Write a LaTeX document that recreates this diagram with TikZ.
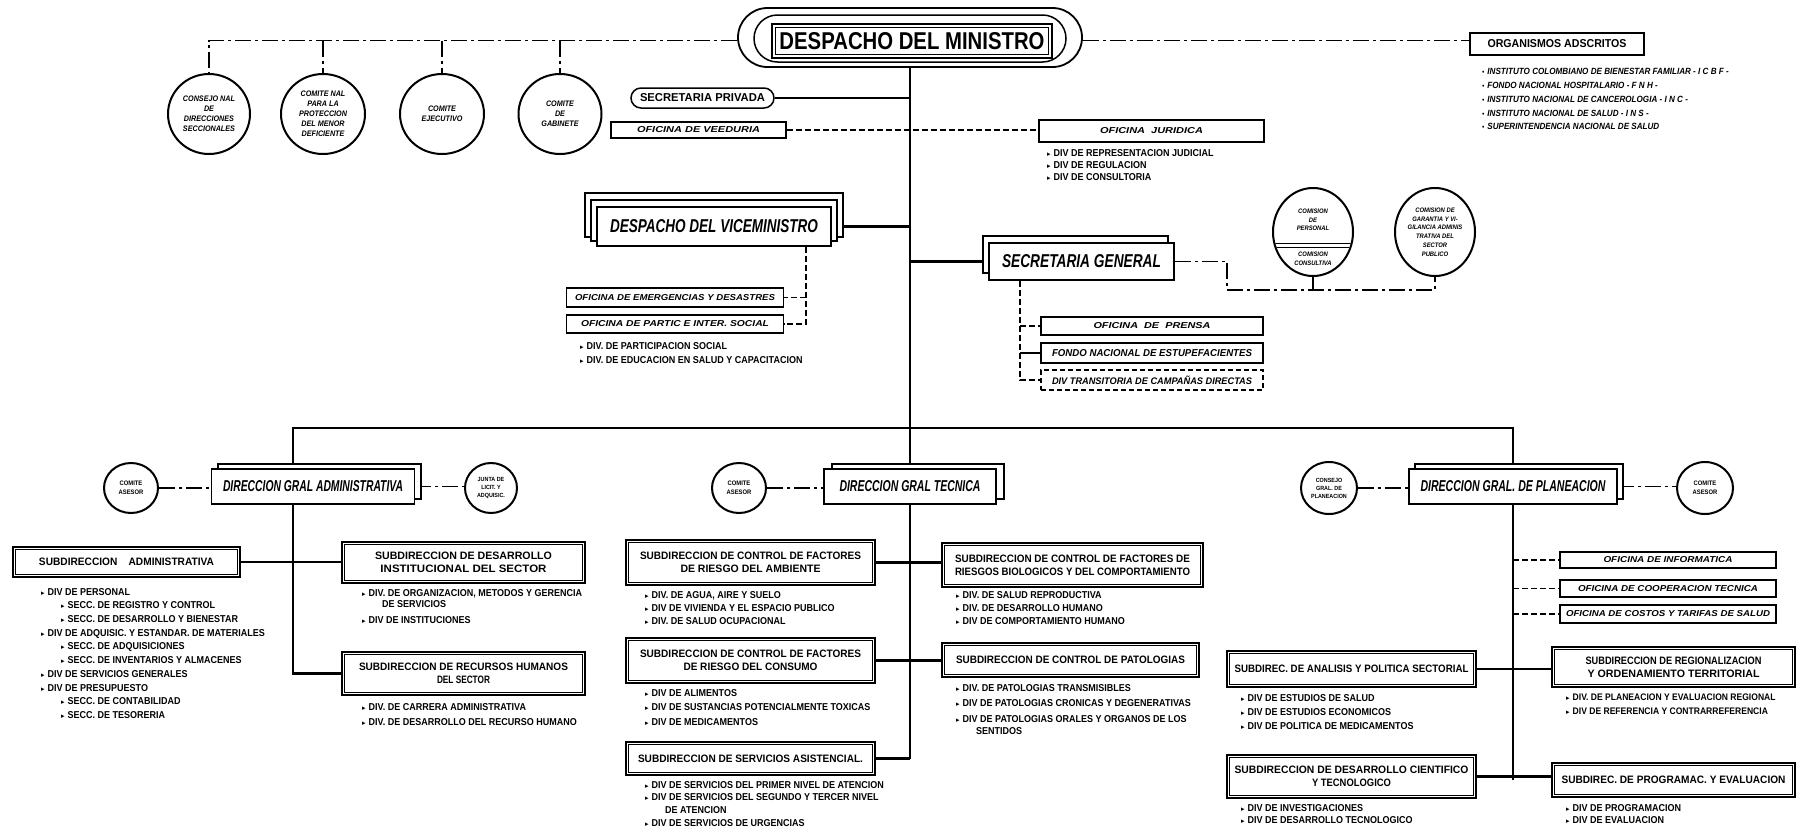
\documentclass[tikz,border=0pt]{standalone}
\usepackage{fontspec}
\setmainfont{Liberation Sans}
\newfontfamily\cf[FakeStretch=0.9]{Liberation Sans}
\newfontfamily\symf{DejaVu Sans}
\usetikzlibrary{shapes.geometric,backgrounds}
\newcommand\fit[3]{\resizebox{#1pt}{#2pt}{#3}}
\newcommand\bu{{\symf\fontsize{7}{7}\selectfont\char"25B8}\hspace{3pt}}
\newcommand\dotb{{\fontsize{7}{7}\selectfont\textbullet}\hspace{3pt}}
\newcommand\ind{\hspace*{20pt}}
\tikzset{
 conn/.style={line width=2.6pt},
 dconn/.style={line width=1.2pt, dash pattern=on 6pt off 3pt},
 ddconn/.style={line width=1.4pt, dash pattern=on 16pt off 4pt on 3pt off 4pt},
 circ/.style 2 args={draw, ellipse, line width=2pt, fill=white, minimum width=#1pt, minimum height=#2pt, inner sep=0pt, align=center, font=\cf\bfseries\itshape\fontsize{8}{10}\selectfont},
 sub/.style 2 args={draw, line width=2.6pt, fill=white, minimum width=#1pt, minimum height=#2pt, inner sep=0pt, align=center, font=\cf\bfseries\fontsize{8}{13}\selectfont},
 ofi/.style 2 args={draw, line width=1.3pt, fill=white, minimum width=#1pt, minimum height=#2pt, inner sep=0pt, align=center, font=\cf\bfseries\itshape},
 dir/.style 2 args={draw, line width=1.6pt, fill=white, minimum width=#1pt, minimum height=#2pt, inner sep=0pt, align=center, font=\cf\bfseries\itshape},
 lst/.style={anchor=north west, inner sep=0pt, align=left, font=\cf\bfseries\fontsize{10}{13}\selectfont},
 layer/.style={line width=1.6pt, fill=white},
}
\begin{document}
\begin{tikzpicture}[x=1pt,y=-1pt]
\useasboundingbox (0,0) rectangle (1801,833);

% ---------------- Despacho del Ministro
\node[draw,line width=1.8pt,rounded corners=29.5pt,minimum width=344pt,minimum height=59pt] (mina) at (910,37.5) {};
\node[draw,line width=1.5pt,rounded corners=23.5pt,minimum width=312pt,minimum height=47pt] (minb) at (910,38.5) {};
\node[draw,line width=1.6pt,fill=white,minimum width=280pt,minimum height=34pt,inner sep=0pt,font=\cf\bfseries] (min) at (912,41) {\fit{265}{17}{DESPACHO DEL MINISTRO}};

% top circles
\node[circ={82}{80}] (c1) at (209,114) {CONSEJO NAL\\DE\\DIRECCIONES\\SECCIONALES};
\node[circ={84}{80}] (c2) at (323,114) {COMITE NAL\\PARA LA\\PROTECCION\\DEL MENOR\\DEFICIENTE};
\node[circ={84}{80}] (c3) at (442,114) {COMITE\\EJECUTIVO};
\node[circ={83}{80}] (c4) at (560,114) {COMITE\\DE\\GABINETE};

\node[draw,line width=1.5pt,fill=white,rounded corners=10pt,minimum width=143pt,minimum height=20pt,inner sep=0pt,font=\cf\bfseries] (spriv) at (702.5,98) {\fit{125}{8}{SECRETARIA PRIVADA}};
\node[ofi={175}{16}] (veed) at (698.5,130) {\fit{123}{6}{OFICINA DE VEEDURIA}};
\node[ofi={225}{22}] (jur) at (1151.5,131) {\fit{103}{6}{OFICINA\ \ JURIDICA}};
\node[lst,font=\cf\bfseries\fontsize{10}{12}\selectfont] (lj) at (1047,149.5) {\bu DIV DE REPRESENTACION JUDICIAL\\\bu DIV DE REGULACION\\\bu DIV DE CONSULTORIA};

\node[draw,line width=1.2pt,fill=white,minimum width=174pt,minimum height=22pt,inner sep=0pt,font=\cf\bfseries] (org) at (1557,44) {\fit{139}{8}{ORGANISMOS ADSCRITOS}};
\node[lst,font=\cf\bfseries\itshape\fontsize{9}{13.7}\selectfont] (lo) at (1482,68.5) {\dotb INSTITUTO COLOMBIANO DE BIENESTAR FAMILIAR - I C B F -\\\dotb FONDO NACIONAL HOSPITALARIO - F N H -\\\dotb INSTITUTO NACIONAL DE CANCEROLOGIA - I N C -\\\dotb INSTITUTO NACIONAL DE SALUD - I N S -\\\dotb SUPERINTENDENCIA NACIONAL DE SALUD};

% ---------------- Viceministro
\draw[layer] (585,193) rectangle (843,237);
\draw[layer] (591,200) rectangle (837,241);
\node[dir={234}{39}] (vice) at (714,226.5) {\fit{208}{13}{DESPACHO DEL VICEMINISTRO}};
\node[ofi={217}{19}] (emer) at (675,297.5) {\fit{200}{6}{OFICINA DE EMERGENCIAS Y DESASTRES}};
\node[ofi={217}{18}] (partic) at (675,324) {\fit{188}{6}{OFICINA DE PARTIC E INTER. SOCIAL}};
\node[lst,font=\cf\bfseries\fontsize{10}{14}\selectfont] (lv) at (580,342) {\bu DIV. DE PARTICIPACION SOCIAL\\\bu DIV. DE EDUCACION EN SALUD Y CAPACITACION};

% ---------------- Secretaria General
\draw[layer] (983,236) rectangle (1168,273);
\node[dir={185}{37}] (sg) at (1081.5,261.5) {\fit{159}{13}{SECRETARIA GENERAL}};
\node[circ={80}{88}] (cp) at (1313,232) {};
\node[circ={80}{88}] (cg) at (1435,232) {};
\begin{scope}
\clip (1313,232) ellipse [x radius=39pt, y radius=43pt];
\draw[line width=1.2pt] (1260,243.5) -- (1366,243.5);
\draw[line width=1.2pt] (1260,247.5) -- (1366,247.5);
\end{scope}
\node[align=center,inner sep=0pt,font=\cf\bfseries\itshape\fontsize{6.5}{8.5}\selectfont] (cpt) at (1313,220) {COMISION\\DE\\PERSONAL};
\node[align=center,inner sep=0pt,font=\cf\bfseries\itshape\fontsize{6.5}{8.5}\selectfont] (cpb) at (1313,259) {COMISION\\CONSULTIVA};
\node[align=center,inner sep=0pt,font=\cf\bfseries\itshape\fontsize{6.5}{8.8}\selectfont] (cgt) at (1435,232) {COMISION DE\\GARANTIA Y VI-\\GILANCIA ADMINIS\\TRATIVA DEL\\SECTOR\\PUBLICO};

\node[ofi={222}{18}] (prensa) at (1152,326) {\fit{117}{6}{OFICINA\ \ DE\ \ PRENSA}};
\node[ofi={222}{20}] (fondo) at (1152,353) {\fit{200}{7}{FONDO NACIONAL DE ESTUPEFACIENTES}};
\node[ofi={222}{20},dash pattern=on 5pt off 3pt] (divt) at (1152,380) {\fit{200}{8.5}{DIV TRANSITORIA DE CAMPAÑAS DIRECTAS}};

% ---------------- Direcciones
\draw[layer] (218,464) rectangle (421,499);
\node[dir={203}{35}] (adm) at (313,486.5) {\fit{180}{11}{DIRECCION GRAL ADMINISTRATIVA}};
\draw[layer] (832,464) rectangle (1004,499);
\node[dir={172}{35}] (tec) at (910,486.5) {\fit{141}{11}{DIRECCION GRAL TECNICA}};
\draw[layer] (1415,464) rectangle (1623,499);
\node[dir={208}{35}] (plan) at (1513,486.5) {\fit{185}{11}{DIRECCION GRAL. DE PLANEACION}};

\node[circ={54}{50},font=\cf\bfseries\fontsize{6.5}{9}\selectfont] (ca1) at (131,488) {COMITE\\ASESOR};
\node[circ={52}{50},font=\cf\bfseries\fontsize{6}{8}\selectfont] (junta) at (491,488) {JUNTA DE\\LICIT. Y\\ADQUISIC.};
\node[circ={54}{50},font=\cf\bfseries\fontsize{6.5}{9}\selectfont] (ca2) at (739,488) {COMITE\\ASESOR};
\node[circ={56}{52},font=\cf\bfseries\fontsize{6}{8}\selectfont] (cgp) at (1329,488) {CONSEJO\\GRAL. DE\\PLANEACION};
\node[circ={56}{52},font=\cf\bfseries\fontsize{6.5}{9}\selectfont] (ca3) at (1705,488) {COMITE\\ASESOR};

% ---------------- Subdirecciones administrativas
\node[sub={227}{30}] (sadm) at (126.5,562) {\fit{175}{7.5}{SUBDIRECCION\quad ADMINISTRATIVA}};
\node[sub={243}{41}] (desi) at (463.5,562.5) {\fit{177}{7.5}{SUBDIRECCION DE DESARROLLO}\\\fit{166}{7.5}{INSTITUCIONAL DEL SECTOR}};
\node[sub={243}{43}] (rrhh) at (463.5,673.5) {\fit{209}{7.5}{SUBDIRECCION DE RECURSOS HUMANOS}\\\fit{53}{7.5}{DEL SECTOR}};
\node[lst,font=\cf\bfseries\fontsize{10}{13.7}\selectfont] (la) at (41,588) {\bu DIV DE PERSONAL\\\ind\bu SECC. DE REGISTRO Y CONTROL\\\ind\bu SECC. DE DESARROLLO Y BIENESTAR\\\bu DIV DE ADQUISIC. Y ESTANDAR. DE MATERIALES\\\ind\bu SECC. DE ADQUISICIONES\\\ind\bu SECC. DE INVENTARIOS Y ALMACENES\\\bu DIV DE SERVICIOS GENERALES\\\bu DIV DE PRESUPUESTO\\\ind\bu SECC. DE CONTABILIDAD\\\ind\bu SECC. DE TESORERIA};
\node[lst,font=\cf\bfseries\fontsize{10}{11.5}\selectfont] (ld) at (362,589) {\bu DIV. DE ORGANIZACION, METODOS Y GERENCIA\\\ind DE SERVICIOS\\[4pt]\bu DIV DE INSTITUCIONES};
\node[lst,font=\cf\bfseries\fontsize{10}{15}\selectfont] (lr) at (362,703) {\bu DIV. DE CARRERA ADMINISTRATIVA\\\bu DIV. DE DESARROLLO DEL RECURSO HUMANO};

% ---------------- Subdirecciones tecnicas
\node[sub={249}{45}] (samb) at (750.5,562.5) {\fit{221}{7.5}{SUBDIRECCION DE CONTROL DE FACTORES}\\\fit{140}{7.5}{DE RIESGO DEL AMBIENTE}};
\node[sub={261}{44}] (sbio) at (1072.5,565) {\fit{235}{7.5}{SUBDIRECCION DE CONTROL DE FACTORES DE}\\\fit{235}{7.5}{RIESGOS BIOLOGICOS Y DEL COMPORTAMIENTO}};
\node[sub={249}{45}] (scon) at (750.5,660.5) {\fit{221}{7.5}{SUBDIRECCION DE CONTROL DE FACTORES}\\\fit{134}{7.5}{DE RIESGO DEL CONSUMO}};
\node[sub={257}{34}] (spat) at (1070.5,660) {\fit{229}{7.5}{SUBDIRECCION DE CONTROL DE PATOLOGIAS}};
\node[sub={249}{33}] (sasist) at (750.5,758.5) {\fit{225}{7.5}{SUBDIRECCION DE SERVICIOS ASISTENCIAL.}};
\node[lst] (lamb) at (645,591) {\bu DIV. DE AGUA, AIRE Y SUELO\\\bu DIV DE VIVIENDA Y EL ESPACIO PUBLICO\\\bu DIV. DE SALUD OCUPACIONAL};
\node[lst] (lbio) at (956,591) {\bu DIV. DE SALUD REPRODUCTIVA\\\bu DIV. DE DESARROLLO HUMANO\\\bu DIV DE COMPORTAMIENTO HUMANO};
\node[lst,font=\cf\bfseries\fontsize{10}{14.5}\selectfont] (lcon) at (645,689) {\bu DIV DE ALIMENTOS\\\bu DIV DE SUSTANCIAS POTENCIALMENTE TOXICAS\\\bu DIV DE MEDICAMENTOS};
\node[lst,font=\cf\bfseries\fontsize{10}{15.5}\selectfont] (lpat) at (956,684) {\bu DIV. DE PATOLOGIAS TRANSMISIBLES\\\bu DIV DE PATOLOGIAS CRONICAS Y DEGENERATIVAS\\\bu DIV DE PATOLOGIAS ORALES Y ORGANOS DE LOS\\[-3.5pt]\ind SENTIDOS};
\node[lst,font=\cf\bfseries\fontsize{10}{12.7}\selectfont] (lasis) at (645,781) {\bu DIV DE SERVICIOS DEL PRIMER NIVEL DE ATENCION\\\bu DIV DE SERVICIOS DEL SEGUNDO Y TERCER NIVEL\\\ind DE ATENCION\\\bu DIV DE SERVICIOS DE URGENCIAS};

% ---------------- Planeacion
\node[ofi={216}{16}] (oinf) at (1668,560) {\fit{129}{6}{OFICINA DE INFORMATICA}};
\node[ofi={216}{17}] (ocoop) at (1668,588.5) {\fit{180}{6}{OFICINA DE COOPERACION TECNICA}};
\node[ofi={216}{18}] (ocost) at (1668,614) {\fit{204}{6}{OFICINA DE COSTOS Y TARIFAS DE SALUD}};
\node[sub={249}{36}] (sana) at (1351.5,669) {\fit{234}{7.5}{SUBDIREC. DE ANALISIS Y POLITICA SECTORIAL}};
\node[sub={243}{40}] (sreg) at (1673.5,667) {\fit{176}{7.5}{SUBDIRECCION DE REGIONALIZACION}\\\fit{172}{7.5}{Y ORDENAMIENTO TERRITORIAL}};
\node[sub={249}{43}] (sdcient) at (1351.5,776.5) {\fit{234}{7.5}{SUBDIRECCION DE DESARROLLO CIENTIFICO}\\\fit{79}{7.5}{Y TECNOLOGICO}};
\node[sub={243}{34}] (sprog) at (1673.5,780) {\fit{224}{7.5}{SUBDIREC. DE PROGRAMAC. Y EVALUACION}};
\node[lst,font=\cf\bfseries\fontsize{10}{14}\selectfont] (lana) at (1241,694) {\bu DIV DE ESTUDIOS DE SALUD\\\bu DIV DE ESTUDIOS ECONOMICOS\\\bu DIV DE POLITICA DE MEDICAMENTOS};
\node[lst,font=\cf\bfseries\fontsize{9.5}{14}\selectfont] (lreg) at (1566,694) {\bu DIV. DE PLANEACION Y EVALUACION REGIONAL\\\bu DIV DE REFERENCIA Y CONTRARREFERENCIA};
\node[lst,font=\cf\bfseries\fontsize{10}{12}\selectfont] (ldc) at (1241,804) {\bu DIV DE INVESTIGACIONES\\\bu DIV DE DESARROLLO TECNOLOGICO};
\node[lst,font=\cf\bfseries\fontsize{10}{12}\selectfont] (lprog) at (1566,804) {\bu DIV DE PROGRAMACION\\\bu DIV DE EVALUACION};

% inner frames
\foreach \n in {min,sadm,desi,rrhh,samb,sbio,scon,spat,sasist,sana,sreg,sdcient,sprog}
  \draw[line width=0.9pt] ([xshift=4pt,yshift=-4pt]\n.north west) rectangle ([xshift=-4pt,yshift=4pt]\n.south east);

% ---------------- connectors (behind)
\begin{scope}[on background layer]
\fill[white] (0,0) rectangle (1801,833);
\coordinate (ml) at ([yshift=-3pt]mina.west);
\coordinate (mr) at ([yshift=-3pt]mina.east);
\draw[ddconn] (ml) -- (ml -| c1.north) -- (c1.north);
\foreach \c in {c2,c3,c4} \draw[ddconn] (\c.north |- ml) -- (\c.north);
\draw[ddconn] (mr) -- (mr -| org.west);
\draw[conn] (mina.south) -- (mina.south |- sasist.east);
\draw[conn] (spriv.east) -- (spriv.east -| mina.south);
\draw[dconn] (veed.east) -- (veed.east -| jur.west);
\draw[conn] (vice.east) -- (vice.east -| mina.south);
\coordinate (vd) at ([xshift=92pt]vice.south);
\draw[dconn] (vd) -- (vd |- partic.east) -- (partic.east);
\draw[dconn] (vd |- emer.east) -- (emer.east);
\draw[conn] (sg.west) -- (sg.west -| mina.south);
\coordinate (sgc) at (1227,290);
\draw[ddconn] (sg.east) -- (sg.east -| sgc) -- (sgc) -- (sgc -| cg.south) -- (cg.south);
\draw[ddconn] (cp.south) -- (cp.south |- sgc);
\coordinate (sgd) at ([xshift=-61.5pt]sg.south);
\draw[dconn] (sgd) -- (sgd |- divt.west) -- (divt.west);
\draw[dconn] (sgd |- prensa.west) -- (prensa.west);
\draw[line width=1.2pt] (sgd |- fondo.west) -- (fondo.west);
\coordinate (busy) at (0,428);
\coordinate (av) at ([xshift=-20pt]adm.north);
\coordinate (avb) at ([xshift=-20pt]adm.south);
\draw[conn] (av) -- (av |- busy) -- (busy -| plan.north) -- (plan.north);
\draw[conn] (avb) -- (avb |- rrhh.west) -- (rrhh.west);
\draw[conn] (sadm.east) -- (sadm.east -| desi.west);
\draw[ddconn] (ca1.east) -- (ca1.east -| adm.west);
\draw[ddconn] (adm.east) -- (adm.east -| junta.west);
\draw[ddconn] (ca2.east) -- (ca2.east -| tec.west);
\draw[ddconn] (cgp.east) -- (cgp.east -| plan.west);
\draw[ddconn] (plan.east) -- (plan.east -| ca3.west);
\draw[conn] (samb.east) -- (samb.east -| sbio.west);
\draw[conn] (scon.east) -- (scon.east -| spat.west);
\draw[conn] (sasist.east) -- (sasist.east -| mina.south);
\draw[conn] (plan.south) -- (plan.south |- sprog.west);
\draw[conn] (sana.east) -- (sana.east -| sreg.west);
\draw[conn] (sdcient.east) -- (sdcient.east -| sprog.west);
\foreach \o in {oinf,ocoop,ocost} \draw[dconn] (plan.south |- \o.west) -- (\o.west);
\end{scope}
\end{tikzpicture}
\end{document}
